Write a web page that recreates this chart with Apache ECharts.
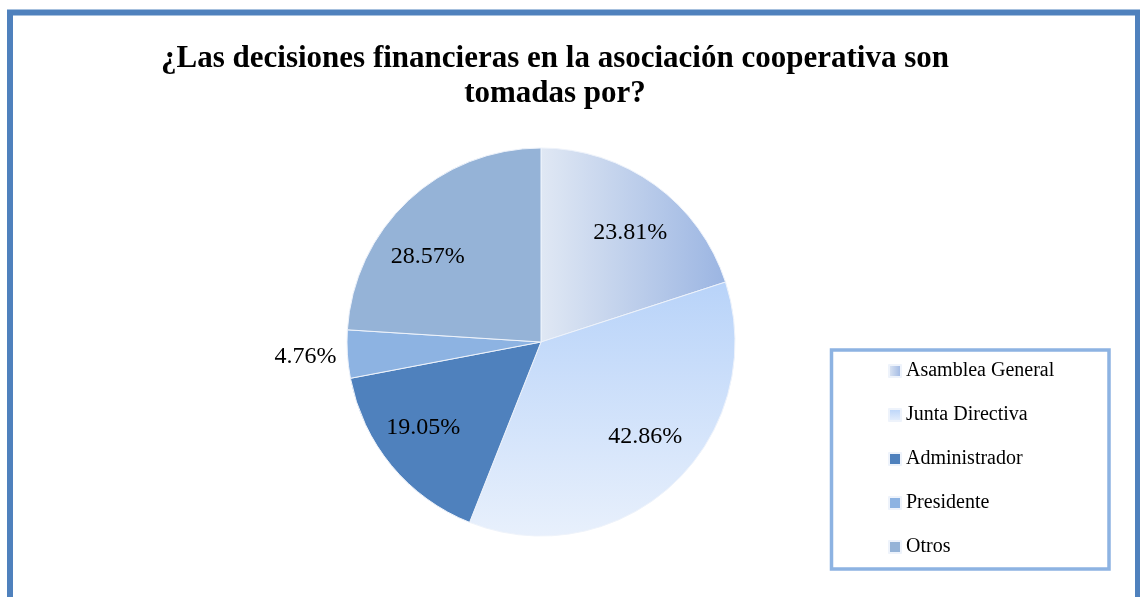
<!DOCTYPE html>
<html>
<head>
<meta charset="utf-8">
<script src="https://cdn.jsdelivr.net/npm/echarts@6/dist/echarts.min.js"></script>
<style>
html,body{margin:0;padding:0;background:#fff;}
#c{width:1140px;height:597px;}
</style>
</head>
<body>
<div id="c"></div>
<script>
const titleText = '¿Las decisiones financieras en la asociación cooperativa son\ntomadas por?';
const categories = ['Asamblea General', 'Junta Directiva', 'Administrador', 'Presidente', 'Otros'];
const values = [23.81, 42.86, 19.05, 4.76, 28.57];

const fills = [
  {type:'linear', x:0, y:0, x2:1, y2:0, colorStops:[{offset:0,color:'#e0e8f4'},{offset:1,color:'#9bb5e2'}]},
  {type:'linear', x:0, y:0, x2:0, y2:1, colorStops:[{offset:0,color:'#b8d3f9'},{offset:1,color:'#e8f0fc'}]},
  '#4f81bd',
  '#8db3e2',
  '#95b3d7'
];
const serif = '"Liberation Serif", "DejaVu Serif", serif';
// label nudges (Excel-like placement)
const labelShift = [[4, 8], [5, -11], [-6, -7], [2, 2], [-14, 20]];

const mainData = categories.map((n, i) => ({
  name: n, value: values[i],
  itemStyle: {color: fills[i]},
  label: {show: i === 3}
}));
const labelData = categories.map((n, i) => ({
  name: n, value: values[i],
  label: {show: i !== 3}
}));

const chart = echarts.init(document.getElementById('c'));
chart.setOption({
  backgroundColor: '#ffffff',
  animation: false,
  title: {
    text: titleText,
    left: 550, top: 36, textAlign: 'center',
    textStyle: {fontFamily: serif, fontWeight: 'bold', fontSize: 31, lineHeight: 35, color: '#000'}
  },
  legend: {
    orient: 'vertical',
    left: 883, top: 356,
    itemWidth: 12, itemHeight: 12, itemGap: 24,
    icon: 'rect',
    data: categories,
    textStyle: {fontFamily: serif, fontSize: 20, lineHeight: 20, color: '#000'}
  },
  graphic: [
    {type:'rect', shape:{x:10, y:12.5, width:1128, height:640}, style:{fill:'none', stroke:'#4f81bd', lineWidth:6}, z: -1},
    {type:'rect', shape:{x:831.5, y:350, width:277.5, height:219}, style:{fill:'none', stroke:'#8db3e2', lineWidth:3.5}, z: -1}
  ],
  series: [
    {
      type: 'pie',
      center: [541, 342], radius: [0, 194],
      startAngle: 90, clockwise: true,
      itemStyle: {borderColor: '#eef3fb', borderWidth: 1},
      label: {
        position: 'outside', formatter: p => p.value.toFixed(2) + '%',
        fontFamily: serif, fontSize: 24, color: '#000'
      },
      labelLine: {show: false, length: 4, length2: 4},
      labelLayout: p => ({dx: labelShift[p.dataIndex][0], dy: labelShift[p.dataIndex][1]}),
      emphasis: {disabled: true},
      data: mainData
    },
    {
      type: 'pie',
      center: [541, 342], radius: [90, 194],
      startAngle: 90, clockwise: true,
      silent: true,
      legendHoverLink: false,
      itemStyle: {color: 'rgba(0,0,0,0)', borderWidth: 0},
      label: {
        position: 'inside', formatter: p => p.value.toFixed(2) + '%',
        fontFamily: serif, fontSize: 24, color: '#000'
      },
      labelLine: {show: false},
      labelLayout: p => ({dx: labelShift[p.dataIndex][0], dy: labelShift[p.dataIndex][1]}),
      emphasis: {disabled: true},
      data: labelData
    }
  ]
});
</script>
</body>
</html>
